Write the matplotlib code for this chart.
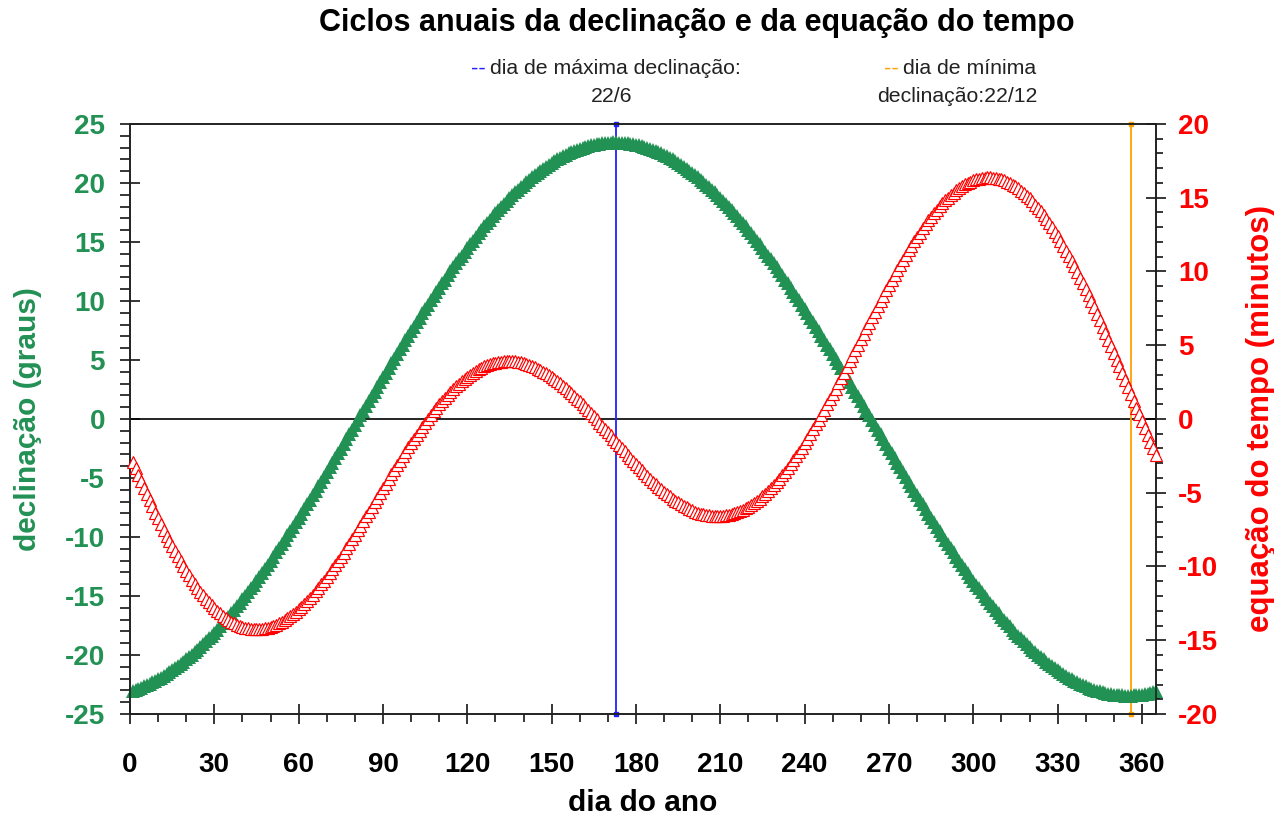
import numpy as np
import matplotlib.pyplot as plt
from matplotlib.ticker import MultipleLocator

plt.rcParams['font.family'] = ['Liberation Sans', 'DejaVu Sans']
plt.rcParams['font.weight'] = 'bold'
plt.rcParams['axes.unicode_minus'] = False

GREEN = '#229154'
RED = '#ff0000'
BLUE = '#2020ff'
ORANGE = '#ffa000'

# day of the year
days = np.arange(1, 366)

# declination in degrees (green series), one value per day
declination = [
    -23.02, -22.94, -22.86, -22.76, -22.66, -22.56, -22.44, -22.32, -22.20, -22.06,
    -21.93, -21.78, -21.63, -21.47, -21.30, -21.13, -20.95, -20.77, -20.58, -20.38,
    -20.18, -19.97, -19.76, -19.54, -19.31, -19.08, -18.84, -18.60, -18.35, -18.10,
    -17.84, -17.58, -17.31, -17.03, -16.75, -16.47, -16.18, -15.88, -15.58, -15.28,
    -14.97, -14.66, -14.34, -14.03, -13.69, -13.37, -13.03, -12.70, -12.35, -12.01,
    -11.66, -11.31, -10.95, -10.60, -10.23, -9.87, -9.50, -9.13, -8.76, -8.38,
    -8.01, -7.63, -7.24, -6.86, -6.47, -6.08, -5.69, -5.30, -4.91, -4.51,
    -4.11, -3.72, -3.32, -2.92, -2.52, -2.12, -1.71, -1.31, -0.91, -0.50,
    -0.10, 0.30, 0.71, 1.11, 1.51, 1.91, 2.32, 2.72, 3.12, 3.52,
    3.92, 4.31, 4.71, 5.10, 5.50, 5.89, 6.28, 6.67, 7.05, 7.44,
    7.82, 8.20, 8.57, 8.95, 9.32, 9.69, 10.05, 10.42, 10.78, 11.13,
    11.49, 11.82, 12.18, 12.51, 12.87, 13.19, 13.54, 13.85, 14.19, 14.50,
    14.82, 15.12, 15.43, 15.73, 16.03, 16.32, 16.61, 16.89, 17.17, 17.44,
    17.71, 17.97, 18.23, 18.48, 18.72, 18.96, 19.20, 19.43, 19.65, 19.87,
    20.08, 20.28, 20.48, 20.67, 20.86, 21.04, 21.22, 21.39, 21.55, 21.70,
    21.85, 22.00, 22.13, 22.26, 22.38, 22.50, 22.61, 22.71, 22.81, 22.90,
    22.98, 23.06, 23.13, 23.19, 23.24, 23.29, 23.34, 23.37, 23.40, 23.42,
    23.43, 23.44, 23.44, 23.43, 23.42, 23.40, 23.37, 23.34, 23.29, 23.24,
    23.19, 23.13, 23.06, 22.98, 22.90, 22.81, 22.71, 22.61, 22.50, 22.38,
    22.26, 22.13, 22.00, 21.85, 21.70, 21.55, 21.39, 21.22, 21.04, 20.86,
    20.67, 20.48, 20.28, 20.08, 19.87, 19.65, 19.43, 19.20, 18.96, 18.72,
    18.48, 18.23, 17.97, 17.71, 17.44, 17.17, 16.89, 16.61, 16.32, 16.03,
    15.73, 15.43, 15.12, 14.82, 14.50, 14.19, 13.85, 13.54, 13.19, 12.87,
    12.51, 12.18, 11.82, 11.49, 11.13, 10.78, 10.42, 10.05, 9.69, 9.32,
    8.95, 8.57, 8.20, 7.82, 7.44, 7.05, 6.67, 6.28, 5.89, 5.50,
    5.10, 4.71, 4.31, 3.92, 3.52, 3.12, 2.72, 2.32, 1.91, 1.51,
    1.11, 0.71, 0.30, -0.10, -0.50, -0.91, -1.31, -1.71, -2.12, -2.52,
    -2.92, -3.32, -3.72, -4.11, -4.51, -4.91, -5.30, -5.69, -6.08, -6.47,
    -6.86, -7.24, -7.63, -8.01, -8.38, -8.76, -9.13, -9.50, -9.87, -10.23,
    -10.60, -10.95, -11.31, -11.66, -12.01, -12.35, -12.70, -13.03, -13.37, -13.69,
    -14.03, -14.34, -14.66, -14.97, -15.28, -15.58, -15.88, -16.18, -16.47, -16.75,
    -17.03, -17.31, -17.58, -17.84, -18.10, -18.35, -18.60, -18.84, -19.08, -19.31,
    -19.54, -19.76, -19.97, -20.18, -20.38, -20.58, -20.77, -20.95, -21.13, -21.30,
    -21.47, -21.63, -21.78, -21.93, -22.06, -22.20, -22.32, -22.44, -22.56, -22.66,
    -22.76, -22.86, -22.94, -23.02, -23.09, -23.16, -23.22, -23.27, -23.32, -23.35,
    -23.38, -23.41, -23.43, -23.44, -23.44, -23.44, -23.43, -23.41, -23.38, -23.35,
    -23.32, -23.27, -23.22, -23.16, -23.09,
]

# equation of time in minutes (red series), one value per day
eq_time = [
    -2.90, -3.35, -3.79, -4.23, -4.66, -5.09, -5.51, -5.93, -6.34, -6.74,
    -7.13, -7.52, -7.90, -8.27, -8.63, -8.98, -9.32, -9.66, -9.98, -10.29,
    -10.60, -10.89, -11.17, -11.44, -11.70, -11.94, -12.18, -12.40, -12.61, -12.81,
    -13.00, -13.17, -13.33, -13.48, -13.61, -13.74, -13.85, -13.94, -14.03, -14.10,
    -14.16, -14.20, -14.23, -14.25, -14.26, -14.25, -14.23, -14.20, -14.16, -14.10,
    -14.03, -13.95, -13.86, -13.76, -13.64, -13.51, -13.38, -13.23, -13.07, -12.90,
    -12.72, -12.54, -12.34, -12.13, -11.92, -11.69, -11.46, -11.22, -10.97, -10.72,
    -10.46, -10.19, -9.92, -9.64, -9.35, -9.06, -8.77, -8.47, -8.16, -7.86,
    -7.55, -7.24, -6.92, -6.61, -6.29, -5.97, -5.65, -5.33, -5.02, -4.70,
    -4.38, -4.06, -3.75, -3.44, -3.13, -2.82, -2.52, -2.22, -1.92, -1.63,
    -1.34, -1.06, -0.78, -0.51, -0.24, 0.02, 0.27, 0.52, 0.76, 0.99,
    1.22, 1.43, 1.64, 1.85, 2.04, 2.22, 2.40, 2.56, 2.72, 2.87,
    3.01, 3.14, 3.26, 3.37, 3.47, 3.56, 3.64, 3.71, 3.77, 3.82,
    3.86, 3.89, 3.92, 3.93, 3.93, 3.92, 3.90, 3.87, 3.84, 3.79,
    3.74, 3.67, 3.60, 3.52, 3.42, 3.33, 3.22, 3.10, 2.98, 2.85,
    2.71, 2.57, 2.42, 2.26, 2.09, 1.93, 1.75, 1.57, 1.38, 1.19,
    1.00, 0.80, 0.60, 0.39, 0.18, -0.03, -0.24, -0.46, -0.67, -0.89,
    -1.11, -1.33, -1.55, -1.77, -1.98, -2.20, -2.42, -2.63, -2.84, -3.05,
    -3.26, -3.46, -3.66, -3.86, -4.05, -4.24, -4.42, -4.59, -4.77, -4.93,
    -5.09, -5.24, -5.39, -5.53, -5.66, -5.78, -5.90, -6.00, -6.10, -6.19,
    -6.28, -6.35, -6.41, -6.47, -6.51, -6.54, -6.57, -6.58, -6.59, -6.58,
    -6.57, -6.54, -6.50, -6.46, -6.40, -6.33, -6.25, -6.16, -6.06, -5.95,
    -5.83, -5.69, -5.55, -5.39, -5.23, -5.06, -4.87, -4.68, -4.48, -4.26,
    -4.04, -3.81, -3.56, -3.31, -3.05, -2.79, -2.51, -2.23, -1.94, -1.64,
    -1.33, -1.02, -0.70, -0.37, -0.04, 0.30, 0.64, 0.99, 1.34, 1.69,
    2.05, 2.42, 2.78, 3.15, 3.52, 3.90, 4.27, 4.65, 5.02, 5.40,
    5.78, 6.15, 6.53, 6.90, 7.27, 7.64, 8.01, 8.37, 8.73, 9.09,
    9.44, 9.79, 10.13, 10.47, 10.80, 11.13, 11.44, 11.75, 12.06, 12.36,
    12.64, 12.92, 13.19, 13.46, 13.71, 13.95, 14.18, 14.41, 14.62, 14.82,
    15.01, 15.19, 15.35, 15.51, 15.65, 15.78, 15.90, 16.01, 16.10, 16.18,
    16.25, 16.30, 16.34, 16.37, 16.38, 16.38, 16.37, 16.34, 16.30, 16.24,
    16.17, 16.09, 16.00, 15.89, 15.77, 15.63, 15.48, 15.32, 15.14, 14.95,
    14.75, 14.54, 14.31, 14.07, 13.82, 13.56, 13.29, 13.00, 12.71, 12.40,
    12.08, 11.75, 11.41, 11.07, 10.71, 10.34, 9.97, 9.59, 9.19, 8.80,
    8.39, 7.98, 7.56, 7.13, 6.70, 6.26, 5.82, 5.38, 4.93, 4.47,
    4.02, 3.56, 3.10, 2.64, 2.17, 1.71, 1.24, 0.77, 0.31, -0.16,
    -0.62, -1.08, -1.54, -2.00, -2.45,
]

DAY_MAX_DECL = 173   # 22/6
DAY_MIN_DECL = 356   # 22/12

W, H = 1274, 818
fig = plt.figure(figsize=(W / 100, H / 100), dpi=100)
ax = fig.add_axes([130 / W, 1 - 714 / H, (1156 - 130) / W, (714 - 124) / H])
ax2 = ax.twinx()

# reference lines
ax.axhline(0, color='black', lw=1.2, zorder=1)
for d, c in [(DAY_MAX_DECL, BLUE), (DAY_MIN_DECL, ORANGE)]:
    ax.plot([d, d], [-25, 25], color=c, lw=1.3, marker='s', ms=2.2,
            clip_on=False, zorder=2)

# the two series
ax.plot(days, declination, linestyle='none', marker='^', ms=10,
        color=GREEN, mew=0, clip_on=False, zorder=3)
ax2.plot(days, eq_time, linestyle='none', marker='^', ms=8.8,
         mfc='white', mec=RED, mew=0.85, clip_on=False, zorder=3)

ax.set_xlim(0, 365)
ax.set_ylim(-25, 25)
ax2.set_ylim(-20, 20)

ax.xaxis.set_major_locator(MultipleLocator(30))
ax.xaxis.set_minor_locator(MultipleLocator(10))
ax.yaxis.set_major_locator(MultipleLocator(5))
ax.yaxis.set_minor_locator(MultipleLocator(1))
ax2.yaxis.set_major_locator(MultipleLocator(5))
ax2.yaxis.set_minor_locator(MultipleLocator(1))

ax.tick_params(axis='x', which='major', direction='inout', length=14, width=1.1,
               labelsize=20, pad=20)
ax.tick_params(axis='x', which='minor', direction='out', length=5.5, width=1.1)
ax.tick_params(axis='y', which='major', direction='inout', length=14, width=1.1,
               labelsize=20, labelcolor=GREEN, pad=11)
ax.tick_params(axis='y', which='minor', direction='out', length=7, width=1.1)
ax2.tick_params(axis='y', which='major', direction='inout', length=14, width=1.1,
                labelsize=20, labelcolor=RED, pad=9)
ax2.tick_params(axis='y', which='minor', direction='out', length=5, width=1.1)

for a in (ax, ax2):
    for s in a.spines.values():
        s.set_linewidth(1.2)
        s.set_color('#222222')

ax.set_xlabel('dia do ano', fontsize=21.5, fontweight='bold', va='center')
ax.xaxis.set_label_coords(0.5, (714 - 803) / 590)
ax.set_ylabel('declinação (graus)', fontsize=21.5, fontweight='bold',
              color=GREEN, va='center')
ax.yaxis.set_label_coords((28 - 130) / 1026, 0.5)
ax2.set_ylabel('equação do tempo (minutos)', fontsize=22.5, fontweight='bold',
               color=RED, va='center', rotation=90)
ax2.yaxis.set_label_coords((1261 - 130) / 1026, 0.5)

fig.text(697 / W, 1 - 23 / H, 'Ciclos anuais da declinação e da equação do tempo',
         ha='center', va='center', fontsize=22, fontweight='bold')

# legend entries above the plot
leg = dict(fontsize=15.3, fontweight='normal', color='#222222', va='center')
fig.text(486 / W, 1 - 69 / H, '--', ha='right', color=BLUE,
         fontsize=16, fontweight='normal', va='center')
fig.text(490 / W, 1 - 69 / H, 'dia de máxima declinação:', ha='left', **leg)
fig.text(612 / W, 1 - 96 / H, '22/6', ha='center', **leg)
fig.text(899 / W, 1 - 69 / H, '--', ha='right', color=ORANGE,
         fontsize=16, fontweight='normal', va='center')
fig.text(903 / W, 1 - 69 / H, 'dia de mínima', ha='left', **leg)
fig.text(957 / W, 1 - 96 / H, 'declinação:22/12', ha='center', **leg)

fig.savefig('out.png', dpi=100)
